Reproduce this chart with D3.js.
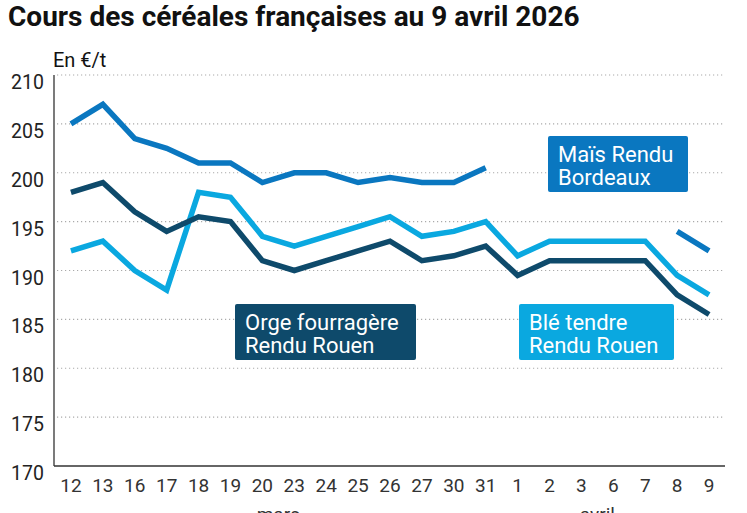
<!DOCTYPE html>
<html>
<head>
<meta charset="utf-8">
<script src="https://cdn.jsdelivr.net/npm/d3@7"></script>
<style>
body { margin: 0; background: #fff; }
text { font-family: Roboto, "Noto Sans", sans-serif; }
</style>
</head>
<body>
<div id="chart"></div>
<script>
var w = 747, h = 513

// data
var days = ["12","13","16","17","18","19","20","23","24","25","26","27","30","31","1","2","3","6","7","8","9"]
var months = [{name: "mars", from: "20", to: "23"}, {name: "avril", from: "3", to: "6"}]
var mais = [205, 207, 203.5, 202.5, 201, 201, 199, 200, 200, 199, 199.5, 199, 199, 200.5, null, null, null, null, null, 194, 192]
var orge = [198, 199, 196, 194, 195.5, 195, 191, 190, 191, 192, 193, 191, 191.5, 192.5, 189.5, 191, 191, 191, 191, 187.5, 185.5]
var ble = [192, 193, 190, 188, 198, 197.5, 193.5, 192.5, 193.5, 194.5, 195.5, 193.5, 194, 195, 191.5, 193, 193, 193, 193, 189.5, 187.5]
var yTicks = [170, 175, 180, 185, 190, 195, 200, 205, 210]

var mLeft = 55, mRight = 725, mTop = 75, mBottom = 466

var svg = d3.select("#chart").append("svg")
  .attr("width", w).attr("height", h)

var x = d3.scalePoint().domain(days).range([mLeft, mRight]).padding(0.5)
var y = d3.scaleLinear().domain([170, 210]).range([mBottom, mTop])

svg.append("text").attr("x", 8).attr("y", 26)
  .attr("font-size", 28).attr("font-weight", "bold").attr("fill", "#111")
  .text("Cours des céréales françaises au 9 avril 2026")

svg.append("text").attr("x", 53).attr("y", 67)
  .attr("font-size", 20).attr("fill", "#111")
  .text("En €/t")

// grid
svg.append("g").selectAll("line")
  .data(yTicks.filter(function(d){ return d > 170 }))
  .enter().append("line")
  .attr("x1", mLeft + 2).attr("x2", mRight)
  .attr("y1", function(d){ return y(d) }).attr("y2", function(d){ return y(d) })
  .attr("stroke", "#aaa").attr("stroke-width", 1.2)
  .attr("stroke-dasharray", "1.2,2.8")

svg.append("g").selectAll("text")
  .data(yTicks).enter().append("text")
  .attr("x", 44).attr("y", function(d){ return y(d) + 14 })
  .attr("text-anchor", "end").attr("font-size", 19.5).attr("fill", "#222")
  .text(function(d){ return d })

svg.append("line").attr("x1", mLeft - 1).attr("x2", mLeft - 1)
  .attr("y1", mTop).attr("y2", mBottom).attr("stroke", "#333").attr("stroke-width", 1.3)
svg.append("line").attr("x1", mLeft - 1).attr("x2", mRight)
  .attr("y1", mBottom).attr("y2", mBottom).attr("stroke", "#333").attr("stroke-width", 1.3)

svg.append("g").selectAll("text")
  .data(days).enter().append("text")
  .attr("x", function(d){ return x(d) }).attr("y", 492)
  .attr("text-anchor", "middle").attr("font-size", 19).attr("fill", "#333")
  .text(function(d){ return d })

svg.append("g").selectAll("text")
  .data(months).enter().append("text")
  .attr("x", function(d){ return (x(d.from) + x(d.to)) / 2 }).attr("y", 521)
  .attr("text-anchor", "middle").attr("font-size", 19).attr("fill", "#333")
  .text(function(d){ return d.name })

var line = d3.line()
  .defined(function(d){ return d != null })
  .x(function(d, i){ return x(days[i]) })
  .y(function(d){ return y(d) })

var series = [
  {vals: ble, color: "#0aa8e0"},
  {vals: orge, color: "#0e4a6b"},
  {vals: mais, color: "#0a77c0"}
]
series.forEach(function(s){
  svg.append("path").attr("d", line(s.vals))
    .attr("fill", "none").attr("stroke", s.color)
    .attr("stroke-width", 5.5).attr("stroke-linejoin", "miter")
})

// labels
var labels = [
  {lines: ["Maïs Rendu", "Bordeaux"], color: "#0a77c0", x0: 548, y0: 136, bw: 140},
  {lines: ["Orge fourragère", "Rendu Rouen"], color: "#0e4a6b", x0: 235, y0: 304, bw: 181},
  {lines: ["Blé tendre", "Rendu Rouen"], color: "#0aa8e0", x0: 519, y0: 304, bw: 155}
]
labels.forEach(function(l){
  var g = svg.append("g")
  g.append("rect").attr("x", l.x0).attr("y", l.y0).attr("width", l.bw).attr("height", 56)
    .attr("rx", 2).attr("fill", l.color)
  l.lines.forEach(function(t, i){
    g.append("text").attr("x", l.x0 + 10).attr("y", l.y0 + 26 + i * 23)
      .attr("font-size", 22).attr("fill", "#fff").text(t)
  })
})
</script>
</body>
</html>
